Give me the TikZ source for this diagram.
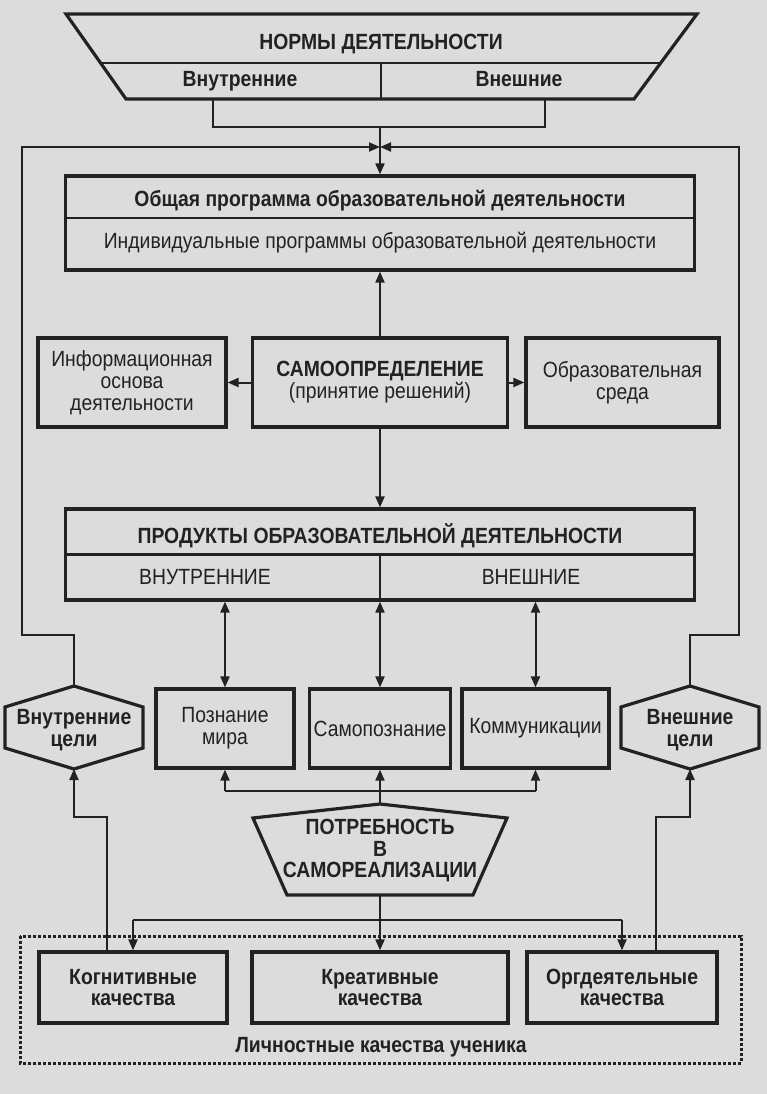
\documentclass[tikz,border=0pt]{standalone}
\usepackage{fontspec}
\setmainfont{Liberation Sans}[FakeStretch=0.88]
\usetikzlibrary{arrows.meta}
\definecolor{ink}{HTML}{222222}
\definecolor{paper}{HTML}{DCDCDC}
\newcommand\fsreg{\fontsize{22}{22}\selectfont}
\newcommand\fsbld{\fontsize{22}{21.5}\selectfont\bfseries}

\begin{document}
\begin{tikzpicture}[x=1pt, y=-1pt,
    blk/.style={draw=ink, line width=3.2pt, inner sep=0pt, align=center, text=ink, font=\fsreg},
    bblk/.style={blk, font=\fsbld},
    shp/.style={draw=ink, line width=3.2pt, line join=miter},
    sep/.style={draw=ink, line width=2.4pt},
    txt/.style={inner sep=0pt, align=center, text=ink, font=\fsreg},
    btxt/.style={txt, font=\fsbld},
    ln/.style={draw=ink, line width=2pt},
    arr/.style={ln, -{Triangle[length=11pt,width=9pt]}},
    darr/.style={ln, {Triangle[length=11pt,width=9pt]}-{Triangle[length=11pt,width=9pt]}}
]
\useasboundingbox (0,0) rectangle (767,1094);
\fill[paper] (0,0) rectangle (767,1094);

% norms
\draw[shp] (66,14) -- (697,14) -- (634,99) -- (126,99) -- cycle;
\draw[sep] (100.6,63) -- (660.7,63);
\draw[sep] (381,63) -- (381,99);
\node[btxt, anchor=base] (norm) at (381,50) {НОРМЫ ДЕЯТЕЛЬНОСТИ};
\node[btxt, anchor=base] (nin) at (240,87) {Внутренние};
\node[btxt, anchor=base] (nex) at (519,87) {Внешние};
\coordinate (nl) at (213,99);
\coordinate (nr) at (545,99);
\coordinate (nj) at (380,127);
\coordinate (top) at (380,147);

% programme
\node[blk, minimum width=629pt, minimum height=94pt] (prog) at (380,223) {};
\draw[sep] (prog.west |- 0,218) -- (prog.east |- 0,218);
\node[btxt, anchor=base] (gen) at (380,207) {Общая программа образовательной деятельности};
\node[txt, anchor=base] (ind) at (380,248) {Индивидуальные программы образовательной деятельности};

% self-determination
\node[blk, minimum width=188pt, minimum height=89pt] (info) at (132,382.5) {Информационная\\основа\\деятельности};
\node[blk, minimum width=255pt, minimum height=89pt] (self) at (380,382.5) {\textbf{САМООПРЕДЕЛЕНИЕ}\\(принятие решений)};
\node[blk, minimum width=193pt, minimum height=89pt] (env) at (622.5,382.5) {Образовательная\\среда};

% products
\node[blk, minimum width=629pt, minimum height=91pt] (prod) at (380,554.5) {};
\draw[sep] (prod.west) -- (prod.east);
\draw[sep] (prod.center) -- (prod.south);
\node[btxt, anchor=base] (ptl) at (380,543) {ПРОДУКТЫ ОБРАЗОВАТЕЛЬНОЙ ДЕЯТЕЛЬНОСТИ};
\node[txt, anchor=base] (pin) at (205,584) {ВНУТРЕННИЕ};
\node[txt, anchor=base] (pex) at (531,584) {ВНЕШНИЕ};

% spheres
\node[blk, minimum width=138pt, minimum height=79pt] (know) at (225,728.5) {Познание\\мира};
\node[blk, minimum width=141pt, minimum height=79pt] (sk) at (380,728.5) {Самопознание};
\node[blk, minimum width=147pt, minimum height=79pt] (comm) at (535.5,728.5) {Коммуникации};

% goals
\draw[shp] (5,707) -- (74,686) -- (143,707) -- (143,748) -- (74,769) -- (5,748) -- cycle;
\node[btxt] (gin) at (74,730) {Внутренние\\цели};
\coordinate (gin-n) at (74,686);
\coordinate (gin-s) at (74,769);
\draw[shp] (621,707) -- (690,686) -- (759,707) -- (759,748) -- (690,769) -- (621,748) -- cycle;
\node[btxt] (gex) at (690,730) {Внешние\\цели};
\coordinate (gex-n) at (690,686);
\coordinate (gex-s) at (690,769);

% need
\draw[shp] (380,804) -- (507,818) -- (473,895) -- (287,895) -- (253,818) -- cycle;
\node[btxt] (pot) at (380,851) {ПОТРЕБНОСТЬ\\В\\САМОРЕАЛИЗАЦИИ};
\coordinate (pot-n) at (380,804);
\coordinate (pot-s) at (380,895);
\coordinate (pj) at (380,791);
\coordinate (qj) at (380,920);

% qualities
\draw[draw=ink, line width=3pt, dash pattern=on 3pt off 2pt] (20,936) rectangle (741,1063);
\node[bblk, minimum width=188pt, minimum height=71pt] (cog) at (133,987.5) {Когнитивные\\качества};
\node[bblk, minimum width=256pt, minimum height=71pt] (cre) at (380,987.5) {Креативные\\качества};
\node[bblk, minimum width=190pt, minimum height=71pt] (org) at (622,987.5) {Оргдеятельные\\качества};
\node[btxt, anchor=base] (qual) at (381,1052) {Личностные качества ученика};

% connectors
\draw[ln] (nl) |- (nj) -| (nr);
\draw[arr] (nj) -- (prog.north);
\draw[arr] (gin-n) |- (22,635) |- (top);
\draw[arr] (gex-n) |- (739,635) |- (top);
\draw[arr] (self.north) -- (prog.south);
\draw[arr] (self.west) -- (info.east);
\draw[arr] (self.east) -- (env.west);
\draw[arr] (self.south) -- (prod.north);
\draw[darr] (prod.south -| know) -- (know.north);
\draw[darr] (prod.south) -- (sk.north);
\draw[darr] (prod.south -| comm) -- (comm.north);
\draw[ln] (pot-n) -- (pj);
\draw[ln] (pj -| know) -- (pj -| comm);
\draw[arr] (pj -| know) -- (know.south);
\draw[arr] (pj) -- (sk.south);
\draw[arr] (pj -| comm) -- (comm.south);
\draw[ln] (pot-s) -- (qj);
\draw[ln] (qj -| cog) -- (qj -| org);
\draw[arr] (qj -| cog) -- (cog.north);
\draw[arr] (qj) -- (cre.north);
\draw[arr] (qj -| org) -- (org.north);
\draw[arr] ([xshift=-26pt]cog.north) |- (74,817) -- (gin-s);
\draw[arr] ([xshift=34pt]org.north) |- (690,817) -- (gex-s);
\end{tikzpicture}
\end{document}
